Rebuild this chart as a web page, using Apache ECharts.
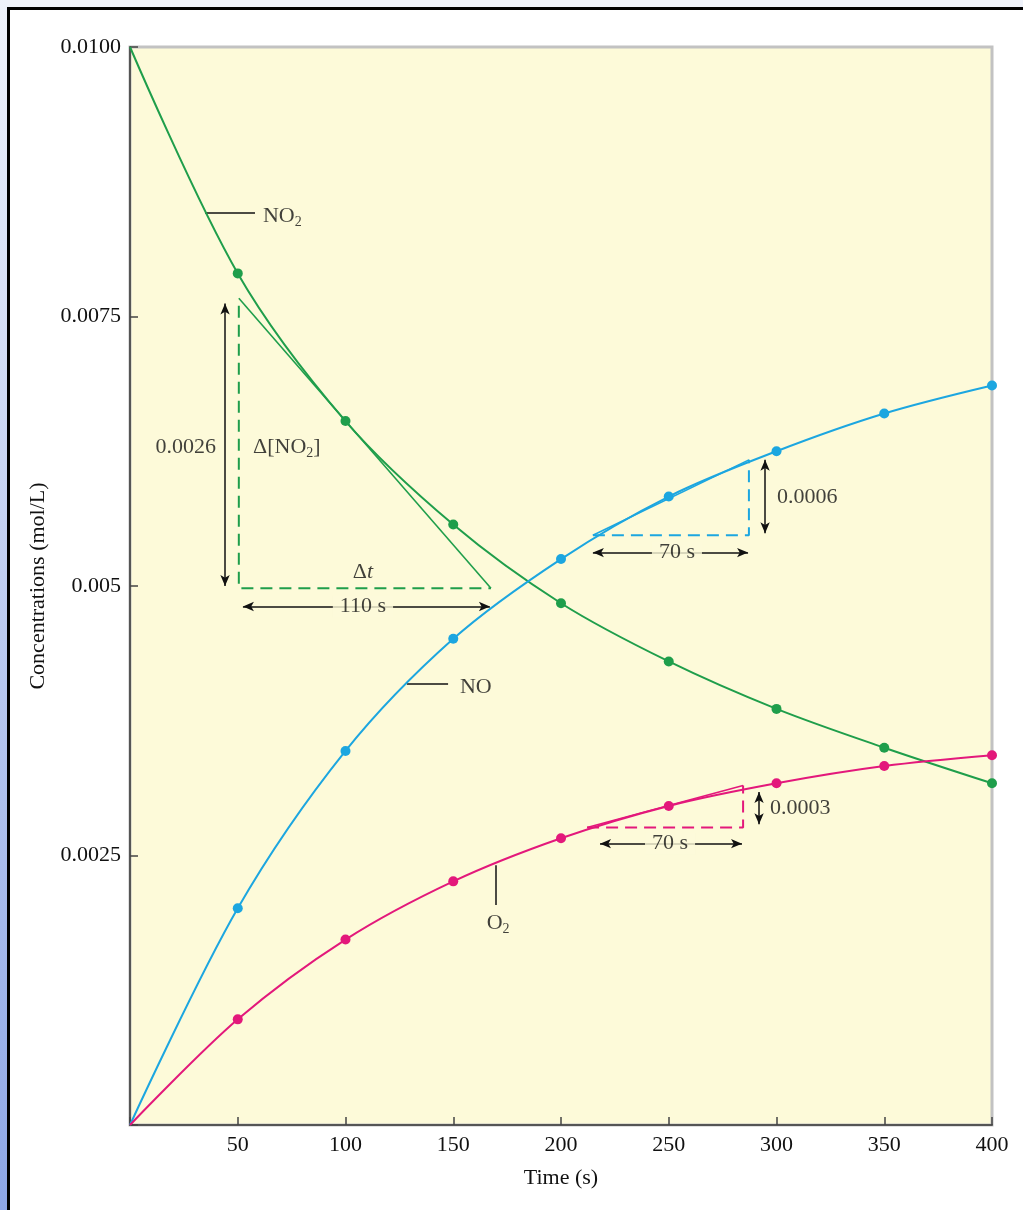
<!DOCTYPE html>
<html>
<head>
<meta charset="utf-8">
<title>Concentrations vs time</title>
<script src="https://cdn.jsdelivr.net/npm/echarts@6/dist/echarts.min.js"></script>
<style>
  html, body { margin: 0; padding: 0; width: 1023px; height: 1210px; overflow: hidden; background: #eff2fa; }
  #strip { position: absolute; left: 0; top: 0; width: 8px; height: 1210px;
           background: linear-gradient(to bottom, #eef2fb, #8da6e6); }
  #frame { position: absolute; left: 7px; top: 7px; width: 1030px; height: 1230px;
           border: 3px solid #000; background: #fff; }
  #chart { position: absolute; left: 0; top: 0; width: 1023px; height: 1210px; }
</style>
</head>
<body>
<div id="strip"></div>
<div id="frame"></div>
<div id="chart"></div>
<script>
'use strict';
{
    // measured concentrations (mol/L)
    let times = [0, 50, 100, 150, 200, 250, 300, 350, 400];
    let no2 = [0.0100, 0.00790, 0.00653, 0.00557, 0.00484, 0.00430, 0.00386, 0.00350, 0.00317];
    let no  = [0, 0.00201, 0.00347, 0.00451, 0.00525, 0.00583, 0.00625, 0.00660, 0.00686];
    let o2  = [0, 0.00098, 0.00172, 0.00226, 0.00266, 0.00296, 0.00317, 0.00333, 0.00343];
    let yTickLabels = ['', '0.0025', '0.005', '0.0075', '0.0100'];

    // tangents and rate triangles, [time, conc]
    let tangentNO2 = [[50.5, 0.00767], [167.5, 0.00498]];
    let triangleNO2 = [[50.5, 0.00760], [50.5, 0.00498], [167.5, 0.00498]];
    let tangentNO = [[214.8, 0.00547], [287.2, 0.00617]];
    let triangleNO = [[214.8, 0.00547], [287.2, 0.00547], [287.2, 0.00617]];
    let tangentO2 = [[212.1, 0.00276], [284.5, 0.00315]];
    let triangleO2 = [[212.1, 0.00276], [284.5, 0.00276], [284.5, 0.00315]];

    // double arrows
    let arrows = [
        [[44.1, 0.00762], [44.1, 0.00500]],
        [[52.4, 0.00481], [167.0, 0.00481]],
        [[294.7, 0.00617], [294.7, 0.00549]],
        [[214.8, 0.00531], [286.8, 0.00531]],
        [[291.9, 0.00309], [291.9, 0.00279]],
        [[218.1, 0.00261], [284.0, 0.00261]]
    ];
    // leader lines for curve names
    let leaders = [
        [[34.8, 0.00846], [58.0, 0.00846]],
        [[128.5, 0.00409], [147.6, 0.00409]],
        [[169.8, 0.00241], [169.8, 0.00204]]
    ];
    // text notes: [time, conc, text, side]
    let notes = [
        [39.9, 0.00629, '0.0026', 'left'],
        [57.1, 0.00629, '{n|Δ[NO}{s|2}{n|]}', 'right'],
        [108.1, 0.00513, '{n|Δ}{i|t}', 'inside'],
        [108.1, 0.00481, '110 s', 'box'],
        [61.7, 0.00843, '{n|NO}{s|2}', 'right'],
        [153.1, 0.00406, 'NO', 'right'],
        [170.8, 0.00187, '{n|O}{s|2}', 'inside'],
        [300.2, 0.00582, '0.0006', 'right'],
        [253.8, 0.00531, '70 s', 'box'],
        [297.0, 0.00294, '0.0003', 'right'],
        [250.6, 0.00261, '70 s', 'box']
    ];

    let green = '#1f9e4b';
    let blue = '#1ca6e0';
    let pink = '#e3187b';
    let ink = '#111';
    let paper = '#fdfad9';
    let serif = '"Liberation Serif", "DejaVu Serif", serif';

    let dom = document.getElementById('chart');
    let myChart = echarts.init(dom, null, {renderer: 'canvas'});

    function curve(name, values, color) {
        return {
            name: name,
            type: 'line',
            smooth: 0.33,
            data: values.map(function (v, i) {
                return {value: [times[i], v], symbol: i === 0 ? 'none' : 'circle'};
            }),
            symbolSize: 10,
            itemStyle: {color: color},
            lineStyle: {color: color, width: 2},
            z: 5
        };
    }

    function plain(pts, color, width, type) {
        return {
            type: 'line',
            data: pts,
            showSymbol: false,
            symbol: 'none',
            lineStyle: {color: color, width: width, type: type},
            z: 3
        };
    }

    let richBase = {
        n: {fontFamily: serif, fontSize: 22, color: ink, lineHeight: 26},
        s: {fontFamily: serif, fontSize: 14, color: ink, lineHeight: 14, verticalAlign: 'bottom'},
        i: {fontFamily: serif, fontSize: 22, color: ink, lineHeight: 26, fontStyle: 'italic'}
    };

    let noteSeries = {
        type: 'scatter',
        symbolSize: 0,
        silent: true,
        z: 8,
        data: notes.map(function (n) {
            let pos = n[3] === 'box' ? 'inside' : n[3];
            let label = {
                show: true,
                position: pos,
                distance: 0,
                formatter: n[2],
                fontFamily: serif,
                fontSize: 22,
                color: ink,
                rich: richBase
            };
            if (n[3] === 'box') {
                label.backgroundColor = paper;
                label.padding = [0, 7];
            }
            return {value: [n[0], n[1]], label: label};
        })
    };

    let arrowSeries = {
        type: 'line',
        data: [],
        silent: true,
        markLine: {
            silent: true,
            animation: false,
            symbol: ['arrow', 'arrow'],
            symbolSize: [7, 11],
            label: {show: false},
            lineStyle: {color: ink, width: 1.5, type: 'solid'},
            data: arrows.map(function (a) {
                return [{coord: a[0]}, {coord: a[1]}];
            }).concat(leaders.map(function (a) {
                return [{coord: a[0], symbol: 'none'}, {coord: a[1], symbol: 'none'}];
            }))
        },
        z: 4
    };

    let option = {
        animation: false,
        backgroundColor: 'transparent',
        textStyle: {fontFamily: serif},
        grid: {
            left: 130, right: 31, top: 47, bottom: 85,
            show: true,
            backgroundColor: paper,
            borderColor: '#c2c2c2',
            borderWidth: 3
        },
        xAxis: {
            type: 'value',
            min: 0, max: 400, interval: 50,
            name: 'Time (s)',
            nameLocation: 'middle',
            nameGap: 42,
            nameTextStyle: {fontFamily: serif, fontSize: 22, color: ink},
            axisLine: {show: true, lineStyle: {color: '#555', width: 2}},
            axisTick: {show: true, inside: true, length: 8, lineStyle: {color: '#444', width: 1.5}},
            axisLabel: {
                margin: 9, fontFamily: serif, fontSize: 22, color: ink,
                formatter: function (v) { return v === 0 ? '' : String(v); }
            },
            splitLine: {show: false}
        },
        yAxis: {
            type: 'value',
            min: 0, max: 0.01, interval: 0.0025,
            name: 'Concentrations (mol/L)',
            nameLocation: 'middle',
            nameGap: 73,
            nameTextStyle: {fontFamily: serif, fontSize: 22, color: ink},
            axisLine: {show: true, lineStyle: {color: '#555', width: 2}},
            axisTick: {show: true, inside: true, length: 8, lineStyle: {color: '#444', width: 1.5}},
            axisLabel: {
                margin: 9, fontFamily: serif, fontSize: 22, color: ink,
                formatter: function (v) { return yTickLabels[Math.round(v / 0.0025)]; }
            },
            splitLine: {show: false}
        },
        series: [
            plain(triangleNO2, green, 2, [12, 7]),
            plain(triangleNO, blue, 2, [12, 7]),
            plain(triangleO2, pink, 2, [12, 7]),
            plain(tangentNO2, green, 1.6, 'solid'),
            plain(tangentNO, blue, 1.6, 'solid'),
            plain(tangentO2, pink, 1.6, 'solid'),
            arrowSeries,
            curve('NO2', no2, green),
            curve('NO', no, blue),
            curve('O2', o2, pink),
            noteSeries
        ]
    };
    if (option && typeof option === "object") {
        myChart.setOption(option, true);
    }
}
</script>
</body>
</html>
